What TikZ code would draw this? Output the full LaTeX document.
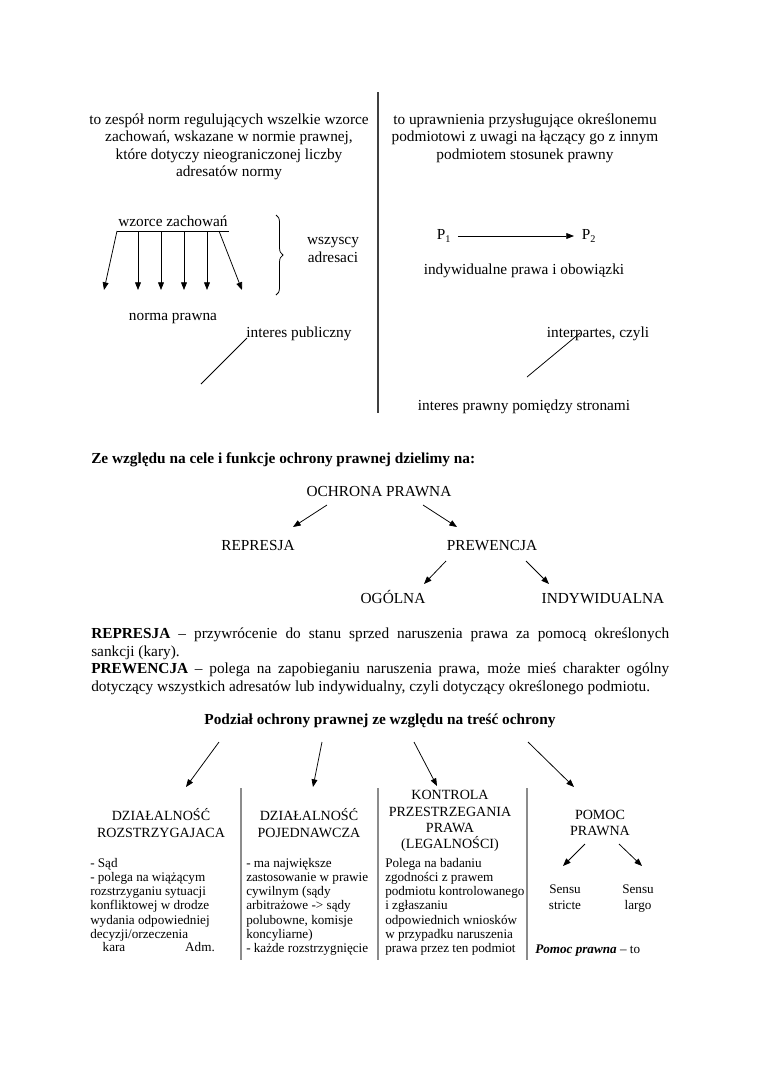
\documentclass[tikz,border=0pt]{standalone}
\usepackage{fontspec}
\setmainfont{Liberation Serif}
\usetikzlibrary{arrows.meta,decorations.pathreplacing}
\begin{document}
\begin{tikzpicture}[x=0.7833pt,y=-0.7833pt,
  blk/.style={inner sep=0pt, font=\fontsize{12}{13.6}\selectfont},
  txt/.style={inner sep=0pt, text height=8.6pt, text depth=2.4pt, font=\fontsize{12}{13.6}\selectfont},
  bold/.style={txt, font=\bfseries\fontsize{12}{13.6}\selectfont},
  arr/.style={-{Triangle[length=6pt,width=4.6pt]}, line width=0.6pt},
  ln/.style={line width=0.6pt},
  hd/.style={inner sep=0pt, align=center, font=\fontsize{11}{12.7}\selectfont},
  bd/.style={inner sep=0pt, align=left, font=\fontsize{10.3}{11.1}\selectfont, anchor=north west},
  sm/.style={inner sep=0pt, text height=7.4pt, text depth=2pt, font=\fontsize{10.3}{11.1}\selectfont},
  sep/.style={line width=1pt, draw=black!45},
]
\fill[white] (0,0) rectangle (760,1075);
\useasboundingbox (0,0) rectangle (760,1075);

% ---------- top ----------
\node[blk, align=center] (defL) at (229,147) {to zespół norm regulujących wszelkie wzorce\\zachowań, wskazane w normie prawnej,\\które dotyczy nieograniczonej liczby\\adresatów normy};
\node[blk, align=center] (defR) at (525,138) {to uprawnienia przysługujące określonemu\\podmiotowi z uwagi na łączący go z innym\\podmiotem stosunek prawny};
\coordinate (vt) at (378,92);
\coordinate (vb) at (378,413);
\draw[line width=0.9pt, black!75] (vt) -- (vb);

\node[txt, inner ysep=1pt] (wz) at (173,223) {wzorce zachowań};
\draw[ln] ([xshift=-1pt]wz.south west) -- ([xshift=1pt]wz.south east);
\foreach \i/\sx/\ex in {1/117/104, 2/138/138, 3/161/161, 4/184/184, 5/207/207, 6/219/242} {
  \coordinate (ws\i) at (\sx,231);
  \coordinate (we\i) at (\ex,290);
  \draw[arr] (ws\i) -- (we\i);
}
\coordinate (bt) at (276,215);
\coordinate (bb) at (276,295);
\draw[ln, decorate, decoration={brace, amplitude=5.5pt}] (bt) -- (bb);
\node[txt] (wsz1) at (333,241) {wszyscy};
\node[txt] (wsz2) at (333,259) {adresaci};
\node[txt] (np) at (173,317) {norma prawna};
\node[txt] (ip) at (299,334) {interes publiczny};
\coordinate (ips) at (247,338);
\coordinate (ipe) at (201,384);
\draw[ln] (ips) -- (ipe);

\node[txt] (p1) at (444,236) {P\textsubscript{1}};
\node[txt] (p2) at (589,236) {P\textsubscript{2}};
\draw[arr, shorten <=5pt, shorten >=6pt] (p1.east) -- (p2.west);
\node[txt] (ipo) at (524,271) {indywidualne prawa i obowiązki};
\node[txt] (inter) at (598,334) {interpartes, czyli};
\coordinate (its) at (580,333);
\coordinate (ite) at (527,377);
\draw[ln] (its) -- (ite);
\node[txt] (ips2) at (524,407) {interes prawny pomiędzy stronami};

% ---------- middle ----------
\node[bold, anchor=west] (zw) at (91,460) {Ze względu na cele i funkcje ochrony prawnej dzielimy na:};
\node[txt] (och) at (379,493) {OCHRONA PRAWNA};
\node[txt] (rep) at (258,547) {REPRESJA};
\node[txt] (pre) at (492,547) {PREWENCJA};
\node[txt] (ogo) at (393,600) {OGÓLNA};
\node[txt] (ind) at (603,600) {INDYWIDUALNA};
\coordinate (a1s) at (327,505); \coordinate (a1e) at (293,527);
\coordinate (a2s) at (423,505); \coordinate (a2e) at (457,527);
\coordinate (a3s) at (446,561); \coordinate (a3e) at (424,584);
\coordinate (a4s) at (526,561); \coordinate (a4e) at (549,584);
\draw[arr] (a1s) -- (a1e);
\draw[arr] (a2s) -- (a2e);
\draw[arr] (a3s) -- (a3e);
\draw[arr] (a4s) -- (a4e);

\node[inner sep=0pt, anchor=north west, text width=452.7pt, align=justify,
      font=\fontsize{12}{13.7}\selectfont] (par) at (91,628)
 {\textbf{REPRESJA} – przywrócenie do stanu sprzed naruszenia prawa za pomocą określonych\linebreak
  sankcji (kary).\\
  \textbf{PREWENCJA} – polega na zapobieganiu naruszenia prawa, może mieś charakter ogólny\linebreak
  dotyczący wszystkich adresatów lub indywidualny, czyli dotyczący określonego podmiotu.};

% ---------- bottom ----------
\node[bold] (pod) at (380,721) {Podział ochrony prawnej ze względu na treść ochrony};
\coordinate (b1s) at (219,742); \coordinate (b1e) at (186,787);
\coordinate (b2s) at (322,742); \coordinate (b2e) at (313,787);
\coordinate (b3s) at (414,742); \coordinate (b3e) at (437,786);
\coordinate (b4s) at (528,742); \coordinate (b4e) at (574,787);
\draw[arr] (b1s) -- (b1e);
\draw[arr] (b2s) -- (b2e);
\draw[arr] (b3s) -- (b3e);
\draw[arr] (b4s) -- (b4e);

\foreach \n/\xx in {1/241, 2/378, 3/527} {
  \coordinate (st\n) at (\xx,788);
  \coordinate (sb\n) at (\xx,960);
  \draw[sep] (st\n) -- (sb\n);
}

\node[hd] (h1) at (161,823) {DZIAŁALNOŚĆ\\ROZSTRZYGAJACA};
\node[hd] (h2) at (309,823) {DZIAŁALNOŚĆ\\POJEDNAWCZA};
\node[hd] (h3) at (450,821) {KONTROLA\\PRZESTRZEGANIA\\PRAWA\\(LEGALNOŚCI)};
\node[hd] (h4) at (600,823) {POMOC\\PRAWNA};

\node[bd] (c1) at (90,858) {- Sąd\\- polega na wiążącym\\rozstrzyganiu sytuacji\\konfliktowej w drodze\\wydania odpowiedniej\\decyzji/orzeczenia};
\node[sm] (kara) at (114,948) {kara};
\node[sm] (adm) at (200,948) {Adm.};
\node[bd] (c2) at (246,858) {- ma największe\\zastosowanie w prawie\\cywilnym (sądy\\arbitrażowe -> sądy\\polubowne, komisje\\koncyliarne)\\- każde rozstrzygnięcie};
\node[bd] (c3) at (385,858) {Polega na badaniu\\zgodności z prawem\\podmiotu kontrolowanego\\i zgłaszaniu\\odpowiednich wniosków\\w przypadku naruszenia\\prawa przez ten podmiot};

\coordinate (d1s) at (585,844); \coordinate (d1e) at (563,866);
\coordinate (d2s) at (619,844); \coordinate (d2e) at (642,866);
\draw[arr] (d1s) -- (d1e);
\draw[arr] (d2s) -- (d2e);
\node[sm] (ss1) at (565,890) {Sensu};
\node[sm] (ss2) at (565,906) {stricte};
\node[sm] (sl1) at (638,890) {Sensu};
\node[sm] (sl2) at (638,906) {largo};
\node[sm, anchor=west] (pp) at (535,950) {\textbf{\textit{Pomoc prawna}} – to};
\end{tikzpicture}
\end{document}
